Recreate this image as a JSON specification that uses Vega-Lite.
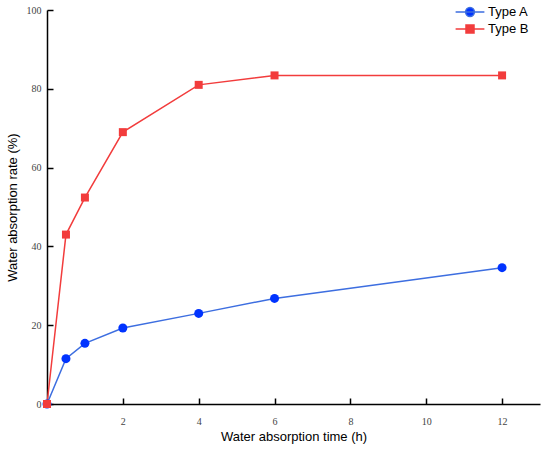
{
  "$schema": "https://vega.github.io/schema/vega-lite/v6.json",
  "autosize": "none",
  "padding": {"left": 47, "top": 10, "right": 10, "bottom": 47},
  "width": 493,
  "height": 394,
  "background": "white",
  "config": {
    "view": {"stroke": null},
    "axis": {
      "grid": false,
      "domainColor": "black",
      "domainWidth": 1.5,
      "tickColor": "black",
      "tickWidth": 1.5,
      "tickSize": -6,
      "labelFont": "Liberation Serif",
      "labelFontSize": 10,
      "labelColor": "#444444",
      "titleFont": "Liberation Sans",
      "titleFontSize": 13,
      "titleFontWeight": "normal",
      "titleColor": "black"
    }
  },
  "data": {
    "values": [
      {"series": "Type A", "time": 0, "rate": 0},
      {"series": "Type A", "time": 0.5, "rate": 11.5},
      {"series": "Type A", "time": 1, "rate": 15.4},
      {"series": "Type A", "time": 2, "rate": 19.3},
      {"series": "Type A", "time": 4, "rate": 23.0},
      {"series": "Type A", "time": 6, "rate": 26.8},
      {"series": "Type A", "time": 12, "rate": 34.6},
      {"series": "Type B", "time": 0, "rate": 0},
      {"series": "Type B", "time": 0.5, "rate": 43.0},
      {"series": "Type B", "time": 1, "rate": 52.4},
      {"series": "Type B", "time": 2, "rate": 69.0},
      {"series": "Type B", "time": 4, "rate": 81.0},
      {"series": "Type B", "time": 6, "rate": 83.4},
      {"series": "Type B", "time": 12, "rate": 83.4}
    ]
  },
  "encoding": {
    "x": {
      "field": "time",
      "type": "quantitative",
      "title": "Water absorption time (h)",
      "scale": {"domain": [0, 13], "nice": false},
      "axis": {"values": [2, 4, 6, 8, 10, 12], "labelPadding": 18, "titlePadding": 4}
    },
    "y": {
      "field": "rate",
      "type": "quantitative",
      "title": "Water absorption rate (%)",
      "scale": {"domain": [0, 100], "nice": false},
      "axis": {"values": [0, 20, 40, 60, 80, 100], "labelPadding": 12, "titlePadding": 7}
    }
  },
  "layer": [
    {
      "mark": {"type": "line", "strokeWidth": 1.5},
      "encoding": {
        "stroke": {
          "field": "series",
          "type": "nominal",
          "scale": {"domain": ["Type A", "Type B"], "range": ["#3d6ee0", "#f23c3c"]},
          "legend": {
            "title": null,
            "orient": "none",
            "legendX": 414,
            "legendY": -7,
            "padding": 0,
            "symbolSize": 256,
            "labelOffset": 9,
            "rowPadding": 0,
            "labelFont": "Liberation Sans",
            "labelFontSize": 13,
            "labelColor": "black",
            "encode": {
              "symbols": {
                "update": {
                  "shape": {"signal": "datum.value === 'Type A' ? 'M-1.8,0L1.8,0M0.55,0A0.55,0.55,0,1,1,-0.55,0A0.55,0.55,0,1,1,0.55,0Z' : 'M-1.8,0L1.8,0M-0.5,-0.5L0.5,-0.5L0.5,0.5L-0.5,0.5Z'"},
                  "fill": {"signal": "datum.value === 'Type A' ? '#0033ff' : '#f23c3c'"},
                  "strokeWidth": {"value": 1.5}
                }
              }
            }
          }
        }
      }
    },
    {
      "transform": [{"filter": "datum.series === 'Type A'"}],
      "mark": {"type": "point", "shape": "circle", "filled": true, "opacity": 1, "size": 81, "color": "#0033ff"}
    },
    {
      "transform": [{"filter": "datum.series === 'Type B'"}],
      "mark": {"type": "point", "shape": "square", "filled": true, "opacity": 1, "size": 64, "color": "#f23c3c"}
    }
  ]
}
